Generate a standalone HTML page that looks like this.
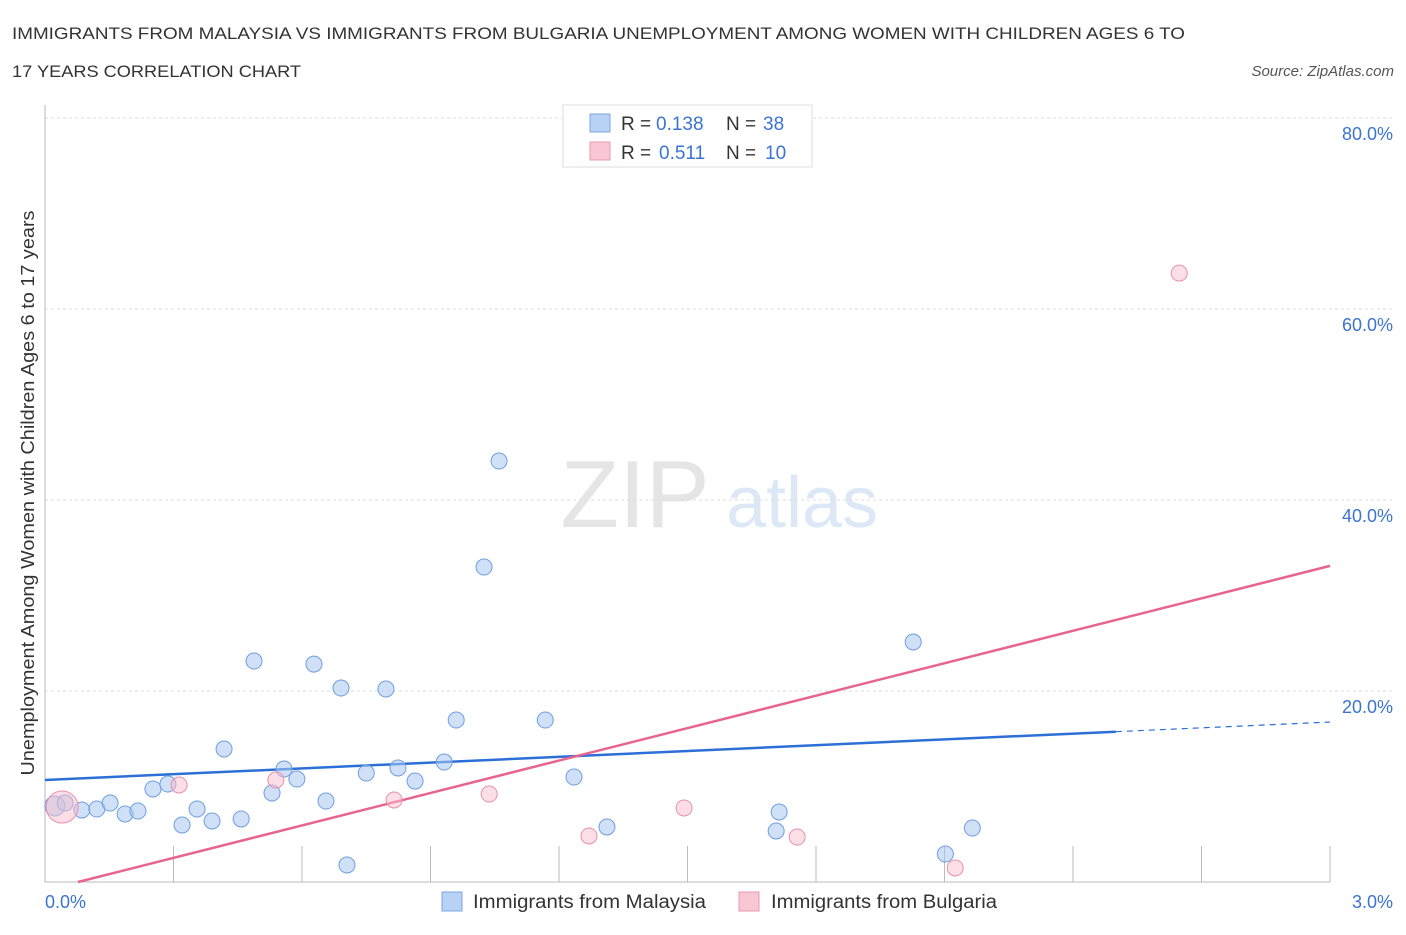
<!DOCTYPE html>
<html><head><meta charset="utf-8"><style>
body{margin:0;background:#fff;font-family:"Liberation Sans",sans-serif;}
svg text{font-family:"Liberation Sans",sans-serif;}
</style></head><body>
<svg id="chart" width="1406" height="930" xmlns="http://www.w3.org/2000/svg">
<text x="12" y="39" font-size="17" fill="#333" textLength="1173" lengthAdjust="spacingAndGlyphs">IMMIGRANTS FROM MALAYSIA VS IMMIGRANTS FROM BULGARIA UNEMPLOYMENT AMONG WOMEN WITH CHILDREN AGES 6 TO</text>
<text x="12" y="77" font-size="17" fill="#333" textLength="289" lengthAdjust="spacingAndGlyphs">17 YEARS CORRELATION CHART</text>
<text x="1394" y="76" font-size="15" fill="#555" font-style="italic" text-anchor="end">Source: ZipAtlas.com</text>
<g opacity="0.25">
<text x="635" y="527" font-size="96" font-family="Liberation Serif" fill="#999" text-anchor="middle">ZIP</text>
<text x="802" y="527" font-size="72" fill="#7aa6e0" text-anchor="middle">atlas</text>
</g>
<g id="grid"></g>
<g id="axes"></g>
<g id="marks"></g>
<g>
<rect x="563" y="105" width="249" height="62" fill="#fff" stroke="#ddd"/>
<rect x="590" y="114" width="20" height="18" fill="#b8d2f5" stroke="#7ba7e0"/>
<rect x="590" y="142" width="20" height="18" fill="#f9c6d4" stroke="#e99ab0"/>
<text x="621" y="130" font-size="19" fill="#333">R =</text>
<text x="656" y="130" font-size="19" fill="#3b74d1">0.138</text>
<text x="726" y="130" font-size="19" fill="#333">N =</text>
<text x="763" y="130" font-size="19" fill="#3b74d1">38</text>
<text x="621" y="159" font-size="19" fill="#333">R =</text>
<text x="659" y="159" font-size="19" fill="#3b74d1">0.511</text>
<text x="726" y="159" font-size="19" fill="#333">N =</text>
<text x="765" y="159" font-size="19" fill="#3b74d1">10</text>
</g>
<g>
<rect x="442" y="892" width="20" height="19" fill="#b8d2f5" stroke="#7ba7e0"/>
<text x="473" y="908" font-size="19" fill="#333" textLength="233" lengthAdjust="spacingAndGlyphs">Immigrants from Malaysia</text>
<rect x="739" y="892" width="20" height="19" fill="#f9c6d4" stroke="#e99ab0"/>
<text x="771" y="908" font-size="19" fill="#333" textLength="226" lengthAdjust="spacingAndGlyphs">Immigrants from Bulgaria</text>
</g>
<text transform="translate(34,493) rotate(-90)" font-size="18" fill="#333" text-anchor="middle" textLength="565" lengthAdjust="spacingAndGlyphs">Unemployment Among Women with Children Ages 6 to 17 years</text>
</svg>
<script>
const xMaxPct = 3.0;
const yTicks = [20, 40, 60, 80];
const yTickLabels = ["20.0%", "40.0%", "60.0%", "80.0%"];
const xTickCount = 10;
const malaysiaX = [0.023,0.047,0.086,0.121,0.152,0.187,0.217,0.252,0.287,0.320,0.355,0.390,0.418,0.458,0.488,0.530,0.558,0.588,0.628,0.656,0.691,0.705,0.750,0.796,0.824,0.864,0.932,0.960,1.025,1.060,1.168,1.235,1.312,1.707,1.714,2.027,2.102,2.165];
const malaysiaY = [7.96,8.27,7.54,7.64,8.27,7.12,7.43,9.74,10.26,5.97,7.64,6.39,13.93,6.60,23.14,9.32,11.83,10.78,22.82,8.48,20.31,1.78,11.41,20.21,11.94,10.57,12.56,16.96,32.98,44.08,16.96,10.99,5.76,5.34,7.33,25.13,2.93,5.65];
const bulgariaX = [0.040,0.313,0.539,0.815,1.037,1.270,1.492,1.756,2.125,2.648];
const bulgariaY = [7.85,10.16,10.68,8.59,9.21,4.82,7.75,4.71,1.47,63.76];
const malaysiaTrend = [10.68, 16.75];
const bulgariaTrend = [0.077, 33.1];
const NS="http://www.w3.org/2000/svg";
const X0=45,X1=1330,Y0=882,PX_PER_PCT=9.55;
const sx=v=>X0+(v/xMaxPct)*(X1-X0);
const sy=v=>Y0-v*PX_PER_PCT;
function mk(tag,attrs,parent){const e=document.createElementNS(NS,tag);for(const k in attrs)e.setAttribute(k,attrs[k]);document.getElementById(parent).appendChild(e);return e;}
yTicks.forEach((t,i)=>{
 const g=mk('line',{x1:X0,x2:1395,y1:sy(t),y2:sy(t),stroke:'#ddd','stroke-dasharray':'3,3'},'grid');
 
 
 const tx=mk('text',{x:1393,y:sy(t)+22,'font-size':18,fill:'#3b74d1','text-anchor':'end'},'axes');
 tx.textContent=yTickLabels[i];
 
 
});
const ax=mk('line',{x1:X0,x2:X1,y1:Y0,y2:Y0,stroke:'#bbb'},'axes');


const ay=mk('line',{x1:X0,x2:X0,y1:105,y2:Y0,stroke:'#bbb'},'axes');


for(let i=1;i<=xTickCount;i++){
 const v=xMaxPct*i/xTickCount;
 const t=mk('line',{x1:sx(v),x2:sx(v),y1:Y0,y2:846,stroke:'#bbb'},'axes');
 
 
}
const xl0=mk('text',{x:45,y:908,'font-size':18,fill:'#3b74d1'},'axes');xl0.textContent='0.0%';


const xl1=mk('text',{x:1393,y:908,'font-size':18,fill:'#3b74d1','text-anchor':'end'},'axes');xl1.textContent='3.0%';


const solidEnd=2.5;
const bl=v=>malaysiaTrend[0]+(malaysiaTrend[1]-malaysiaTrend[0])*v/xMaxPct;
const tl=mk('line',{x1:sx(0),y1:sy(bl(0)),x2:sx(solidEnd),y2:sy(bl(solidEnd)),stroke:'#2c6fd6','stroke-width':2.5},'marks');


const td=mk('line',{x1:sx(solidEnd),y1:sy(bl(solidEnd)),x2:sx(xMaxPct),y2:sy(bl(xMaxPct)),stroke:'#2c6fd6','stroke-width':1.2,'stroke-dasharray':'6,5'},'marks');


const pl=mk('line',{x1:sx(bulgariaTrend[0]),y1:sy(0),x2:sx(xMaxPct),y2:sy(bulgariaTrend[1]),stroke:'#e8648f','stroke-width':2.5},'marks');


malaysiaX.forEach((v,i)=>{
 const c=mk('circle',{cx:sx(v),cy:sy(malaysiaY[i]),r:i===0?10:8,fill:'rgba(168,199,240,0.55)',stroke:'#6f9fe0','stroke-width':1},'marks');
 
 
});
bulgariaX.forEach((v,i)=>{
 const c=mk('circle',{cx:sx(v),cy:sy(bulgariaY[i]),r:i===0?16:8,fill:'rgba(248,190,206,0.5)',stroke:'#e890aa','stroke-width':1},'marks');
 
 
});
</script>
</body></html>
